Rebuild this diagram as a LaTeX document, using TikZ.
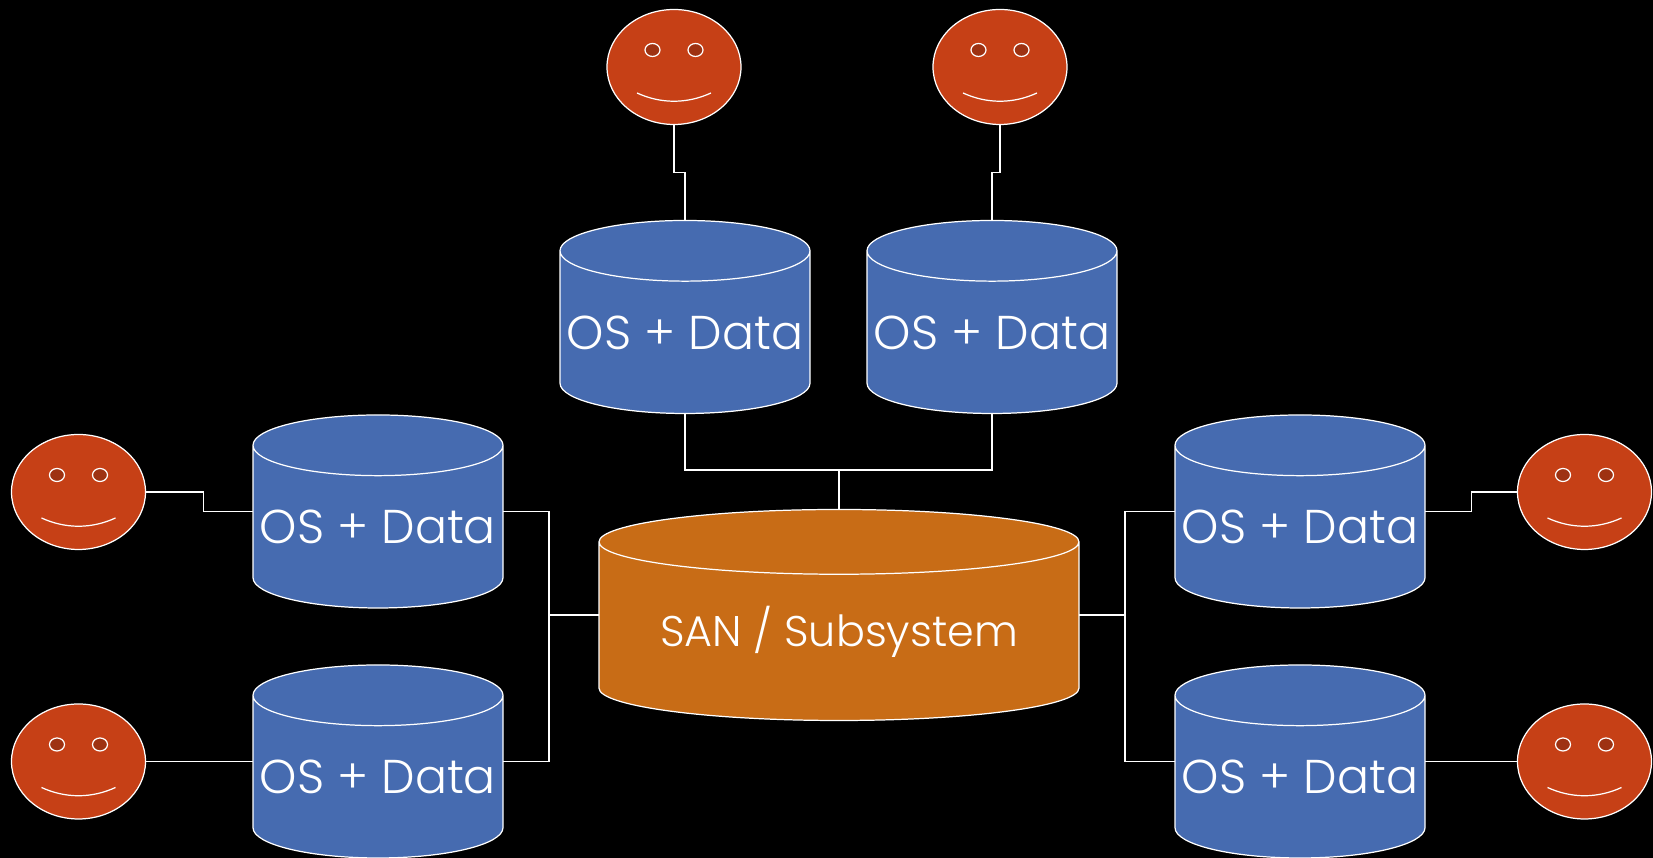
\documentclass[tikz,border=0pt]{standalone}
\usepackage{fontspec}
\setmainfont[UprightFont=* Light]{Poppins}
\usetikzlibrary{calc,shapes.geometric}
\definecolor{osblue}{HTML}{466BB0}
\definecolor{sanorange}{HTML}{C86C16}
\definecolor{facered}{HTML}{C64016}
\definecolor{eyered}{HTML}{9E3212}
\tikzset{
    every path/.style={line width=0.35pt},
    disk/.style={cylinder,shape border rotate=90,anchor=shape center,draw=white,text=white,inner sep=0pt,outer sep=0pt,cylinder uses custom fill},
    osdisk/.style={disk,cylinder body fill=osblue,cylinder end fill=osblue,minimum width=2.50cm,minimum height=1.93cm,aspect=0.257,font=\fontsize{13.5}{14}\selectfont},
    sandisk/.style={disk,cylinder body fill=sanorange,cylinder end fill=sanorange,minimum width=4.80cm,minimum height=2.11cm,aspect=0.181,font=\fontsize{12.2}{14}\selectfont},
    face/.style={ellipse,draw=white,fill=facered,minimum width=1.34cm,minimum height=1.15cm,inner sep=0pt,outer sep=0pt},
    eye/.style={ellipse,draw=white,fill=eyered,minimum width=0.15cm,minimum height=0.13cm,inner sep=0pt,outer sep=0pt},
    link/.style={draw=white}
}
\begin{document}
\begin{tikzpicture}
    % Background
    \fill[black] (0,0) rectangle (16.53,8.58);
    \useasboundingbox (0,0) rectangle (16.53,8.58);

    % SAN
    \node[sandisk] (san) at (8.39,2.43) {SAN / Subsystem};

    % OS disks
    \node[osdisk] (osa) at (6.85,5.41) {OS + Data};
    \node[osdisk] (osb) at (9.92,5.41) {OS + Data};
    \node[osdisk] (osc) at (3.78,3.465) {OS + Data};
    \node[osdisk] (osd) at (3.78,0.965) {OS + Data};
    \node[osdisk] (ose) at (13.00,3.465) {OS + Data};
    \node[osdisk] (osf) at (13.00,0.965) {OS + Data};

    % Users
    \foreach \name/\x/\y in {facea/6.74/7.91,faceb/10.00/7.91,facec/0.785/3.66,faced/0.785/0.965,facee/15.845/3.66,facef/15.845/0.965} {
        \node[face] (\name) at (\x,\y) {};
        \node[eye] (\name l) at ($(\x,\y)+(-0.215,0.17)$) {};
        \node[eye] (\name r) at ($(\x,\y)+(0.215,0.17)$) {};
        \draw[white] ($(\x,\y)+(-0.37,-0.26)$) .. controls ($(\x,\y)+(-0.13,-0.37)$) and ($(\x,\y)+(0.13,-0.37)$) .. ($(\x,\y)+(0.37,-0.26)$);
    }

    % Buses
    \coordinate (topbus) at (8.39,3.88);
    \coordinate (leftbus) at (5.49,2.43);
    \coordinate (rightbus) at (11.25,2.43);

    \draw[link] (osa.bottom) |- (topbus) -| (osb.bottom);
    \draw[link] (topbus) -- (san.top);
    \draw[link] (san.shape center -| san.west) -- (leftbus);
    \draw[link] (osc.shape center -| osc.east) -| (leftbus) |- (osd.shape center -| osd.east);
    \draw[link] (san.shape center -| san.east) -- (rightbus);
    \draw[link] (ose.shape center -| ose.west) -| (rightbus) |- (osf.shape center -| osf.west);

    % Users to disks
    \draw[link] (facea.south) |- ($(facea.south)!.5!(osa.top)$) -| (osa.top);
    \draw[link] (faceb.south) |- ($(faceb.south)!.5!(osb.top)$) -| (osb.top);
    \draw[link] (facec.east) -- ++(0.58,0) |- (osc.shape center -| osc.west);
    \draw[link] (faced.east) -- (osd.shape center -| osd.west);
    \draw[link] (facee.west) -- ++(-0.46,0) |- (ose.shape center -| ose.east);
    \draw[link] (facef.west) -- (osf.shape center -| osf.east);
\end{tikzpicture}
\end{document}
